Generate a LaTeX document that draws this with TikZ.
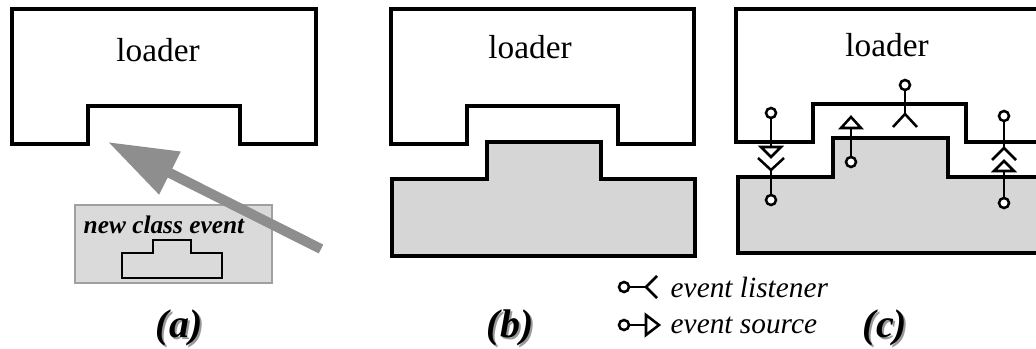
\documentclass[tikz,border=0pt]{standalone}
\usepackage{fontspec}
\setmainfont{Liberation Serif}
\usetikzlibrary{arrows.meta}
\definecolor{piecegray}{HTML}{D6D6D6}
\definecolor{boxfill}{HTML}{DADADA}
\definecolor{boxline}{HTML}{A0A0A0}
\definecolor{arrowgray}{HTML}{8E8E8E}
\tikzset{
  outline/.style={line width=2.6pt, line join=miter},
  piece/.style={outline, fill=piecegray},
  eventbox/.style={draw=boxline, line width=1.5pt, fill=boxfill},
  bigarrow/.style={arrowgray, line width=7.5pt,
    -{Triangle[length=52pt,width=34pt]}},
  sym/.style={line width=1.9pt, line join=miter},
  port/.style={circle, draw, line width=1.9pt, fill=white,
    minimum size=7.5pt, inner sep=0pt},
  loadertext/.style={font=\fontsize{25}{28}\selectfont},
  evtext/.style={font=\fontsize{19}{22}\selectfont\bfseries\itshape},
  legendtext/.style={font=\fontsize{22}{24}\selectfont\itshape, anchor=west},
  tag/.style={font=\fontsize{30}{34}\selectfont\bfseries\itshape},
  tagshadow/.style={tag, text=black!40}
}
\begin{document}
\begin{tikzpicture}[x=0.75pt,y=-0.75pt]
  \useasboundingbox (0,0) rectangle (1036,349);

  % (a) loader and a new class event coming in
  \draw[outline] (12,144) -- (88,144) -- (88,106) -- (240,106) -- (240,144)
    -- (316,144) -- (316,9) -- (12,9) -- cycle;
  \node[loadertext] (loaderA) at (158,50) {loader};
  \draw[eventbox] (75,205) rectangle (272,283);
  \node[evtext, anchor=west] (newclass) at (79,225) {new class event};
  \draw[outline, line width=2.2pt] (122,278) -- (122,253) -- (153,253)
    -- (153,240) -- (191,240) -- (191,253) -- (222,253) -- (222,278) -- cycle;
  \coordinate (tailA) at (321,249);
  \coordinate (tipA) at (108,142);
  \draw[bigarrow] (tailA) -- (tipA);
  \node[tagshadow] (tagAs) at (181,330) {(a)};
  \node[tag] (tagA) at (179,328) {(a)};

  % (b) class plugged into the loader
  \draw[outline] (391,144) -- (467,144) -- (467,106) -- (618,106) -- (618,144)
    -- (694,144) -- (694,9) -- (391,9) -- cycle;
  \node[loadertext] (loaderB) at (530,47) {loader};
  \filldraw[piece] (392,256) -- (392,179) -- (487,179) -- (487,142) -- (601,142)
    -- (601,179) -- (695,179) -- (695,256) -- cycle;
  \node[tagshadow] (tagBs) at (512,330) {(b)};
  \node[tag] (tagB) at (510,328) {(b)};

  % (c) listeners and sources across the joint
  \draw[outline] (1036,142) -- (966,142) -- (966,104) -- (813,104) -- (813,142)
    -- (736,142) -- (736,9) -- (1036,9);
  \node[loadertext] (loaderC) at (887,45) {loader};
  \fill[piecegray] (738,253) -- (738,177) -- (833,177) -- (833,138) -- (948,138)
    -- (948,177) -- (1036,177) -- (1036,253) -- cycle;
  \draw[outline] (1036,253) -- (738,253) -- (738,177) -- (833,177) -- (833,138)
    -- (948,138) -- (948,177) -- (1036,177);

  % left pair
  \node[port] (srcL) at (771,113) {};
  \coordinate (srcLend) at (771,147);
  \draw[sym] (srcL) -- (srcLend);
  \draw[sym, fill=white] (srcLend) ++(-10,0) -- ++(20,0) -- ++(-10,10) -- cycle;
  \node[port] (lisL) at (771,200) {};
  \coordinate (lisLend) at (771,170);
  \draw[sym] (lisL) -- (lisLend);
  \draw[sym] (758,158) -- (lisLend) -- (784,158);

  % middle pair
  \node[port] (srcM) at (851,162) {};
  \coordinate (srcMend) at (851,128);
  \draw[sym] (srcM) -- (srcMend);
  \draw[sym, fill=white] (srcMend) ++(-10,0) -- ++(20,0) -- ++(-10,-11) -- cycle;
  \node[port] (lisM) at (905,85) {};
  \coordinate (lisMend) at (905,114);
  \draw[sym] (lisM) -- (lisMend);
  \draw[sym] (893,127) -- (lisMend) -- (917,127);

  % right pair
  \node[port] (lisR) at (1004,116) {};
  \coordinate (lisRend) at (1004,148);
  \draw[sym] (lisR) -- (lisRend);
  \draw[sym] (992,160) -- (lisRend) -- (1016,160);
  \node[port] (srcR) at (1004,203) {};
  \coordinate (srcRend) at (1004,171);
  \draw[sym] (srcR) -- (srcRend);
  \draw[sym, fill=white] (srcRend) ++(-10,0) -- ++(20,0) -- ++(-10,-10) -- cycle;

  % legend
  \node[port] (keyLis) at (624,287) {};
  \coordinate (keyLisend) at (646,287);
  \draw[sym] (keyLis) -- (keyLisend);
  \draw[sym] (657,276) -- (keyLisend) -- (657,298);
  \node[legendtext] (keyLisText) at (666,287) {event listener};
  \node[port] (keySrc) at (624,325) {};
  \coordinate (keySrcend) at (646,325);
  \draw[sym] (keySrc) -- (keySrcend);
  \draw[sym, fill=white] (keySrcend) ++(0,-10) -- ++(0,20) -- ++(13,-10) -- cycle;
  \node[legendtext] (keySrcText) at (666,325) {event source};

  \node[tagshadow] (tagCs) at (887,330) {(c)};
  \node[tag] (tagC) at (885,328) {(c)};
\end{tikzpicture}
\end{document}
